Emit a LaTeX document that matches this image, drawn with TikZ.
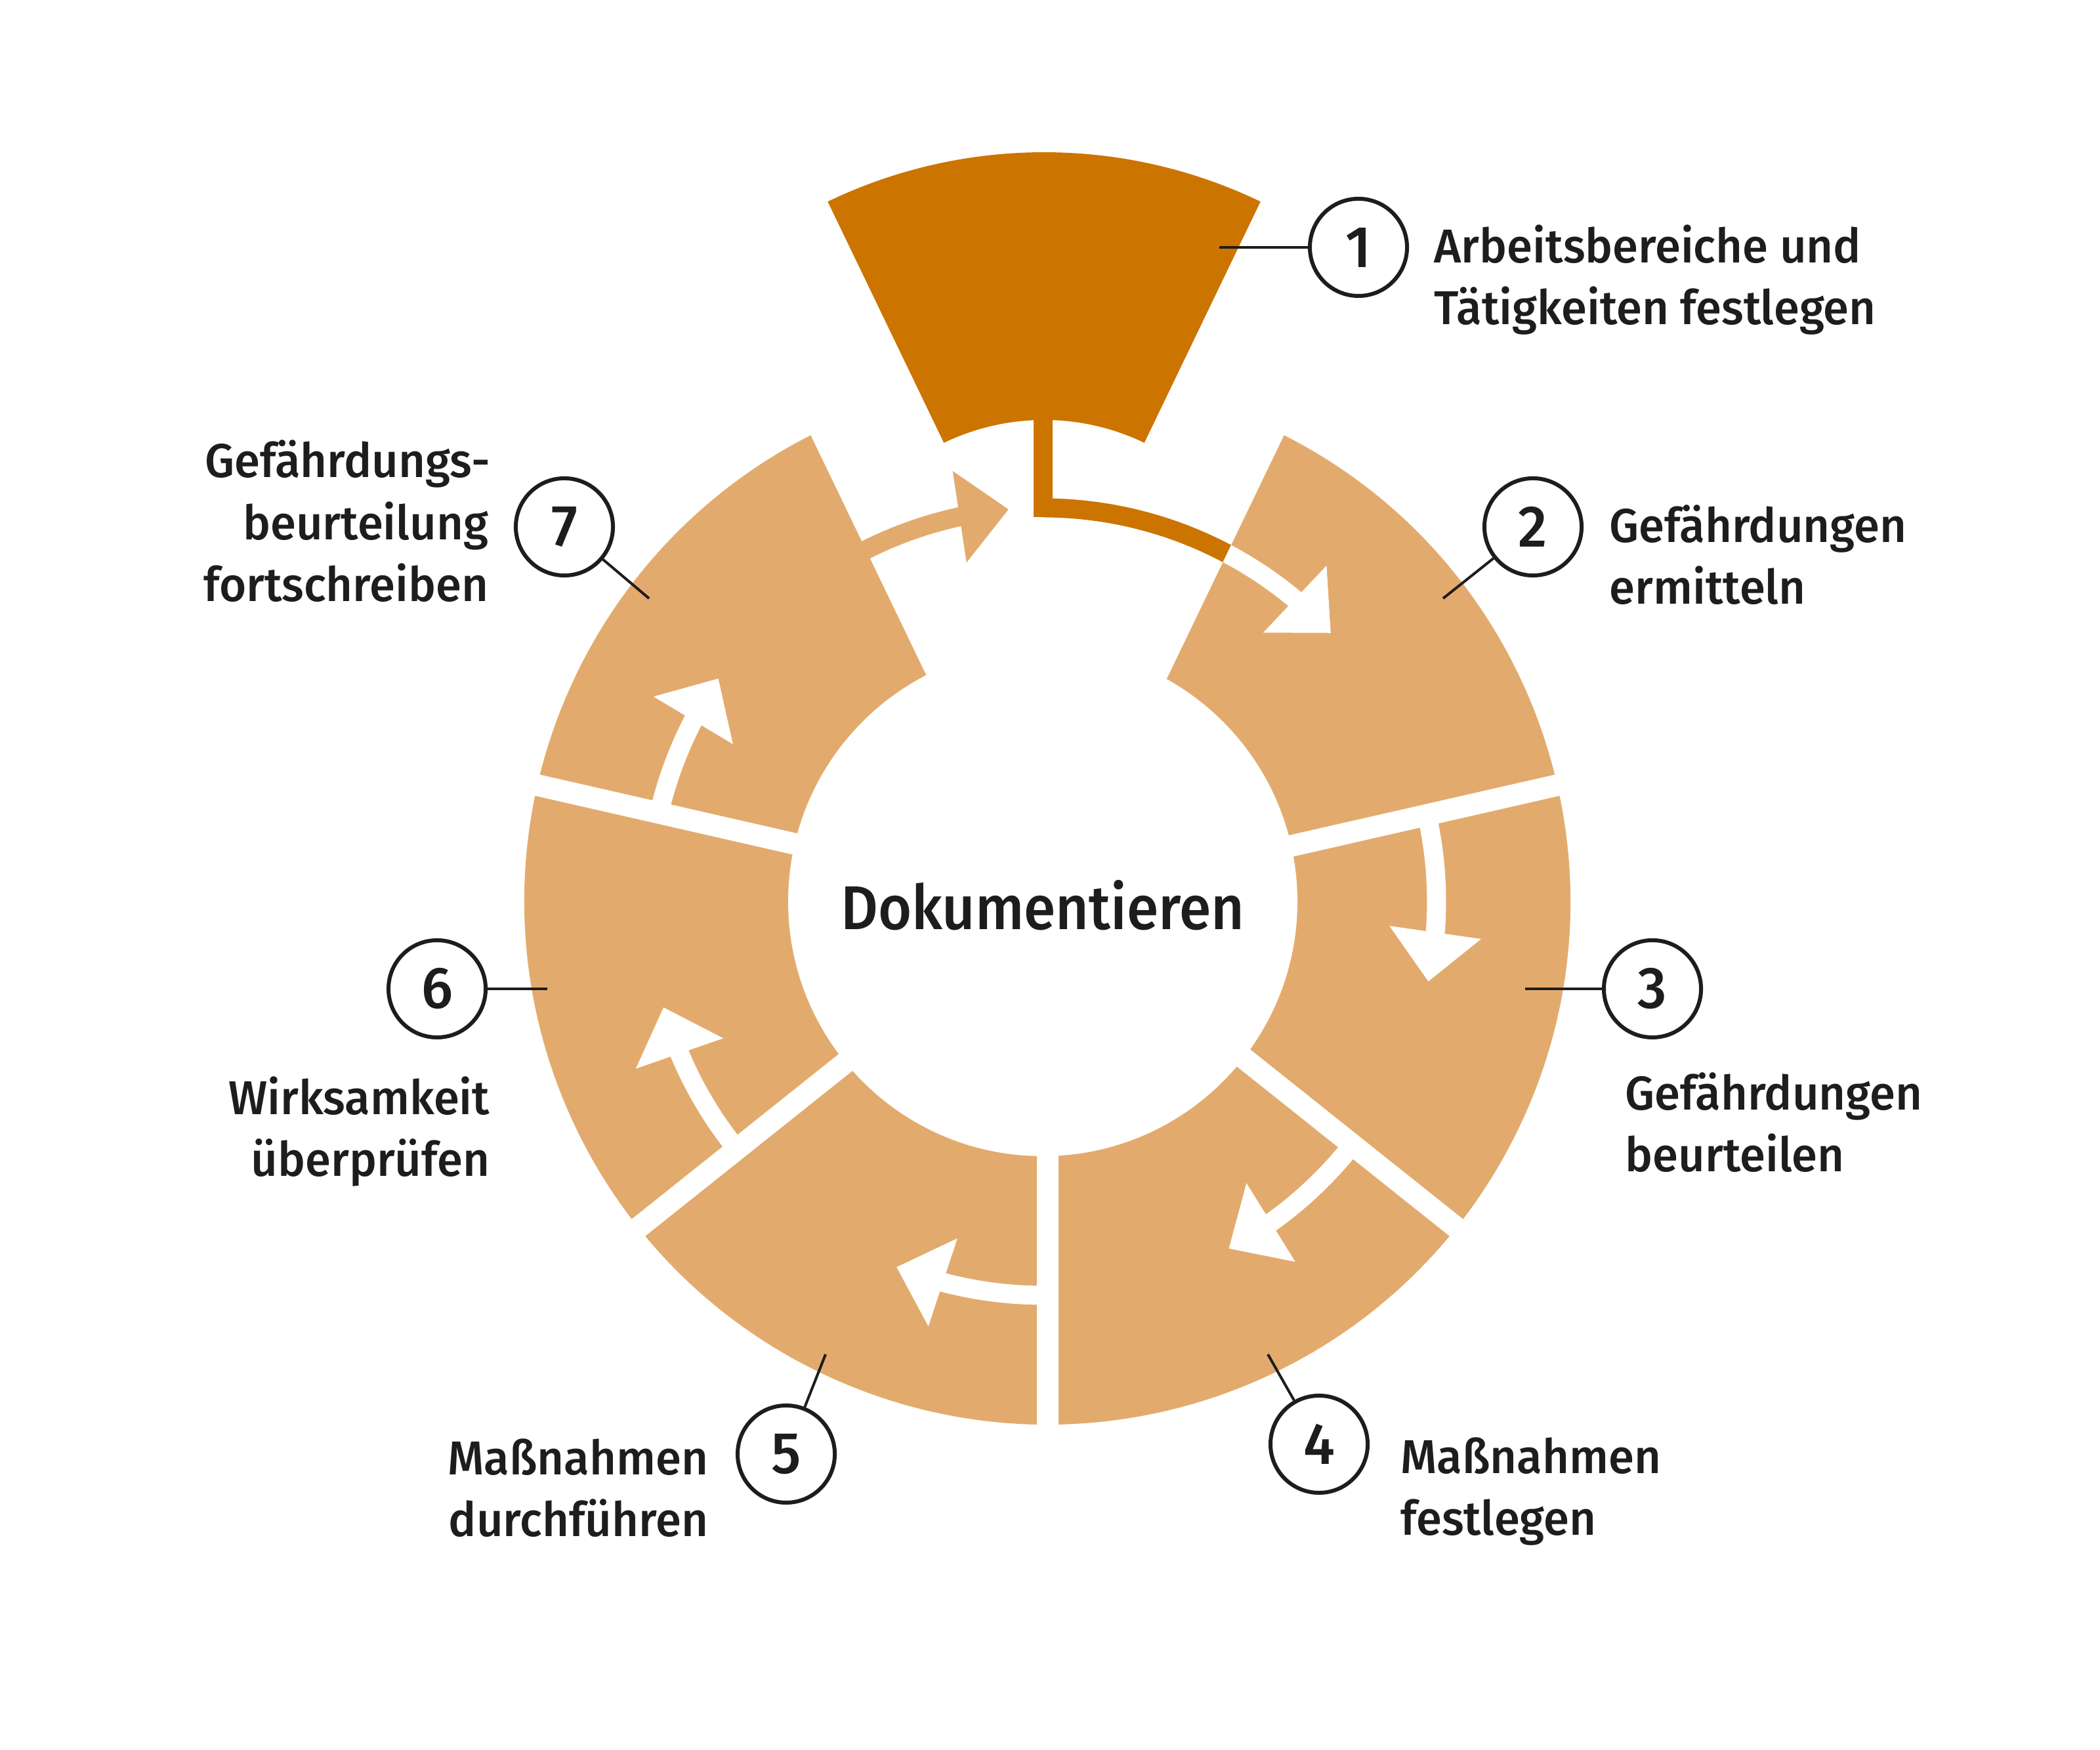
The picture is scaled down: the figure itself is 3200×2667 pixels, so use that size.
\documentclass[tikz,border=0pt]{standalone}
\usepackage{fontspec}
\setmainfont{Fira Sans}[UprightFont={* Medium}, FakeStretch=0.975]
\newfontfamily\docfont{Fira Sans}[UprightFont={* Medium}, FakeStretch=0.93]
\usetikzlibrary{calc}
\definecolor{darkor}{HTML}{CC7400}
\definecolor{lightor}{HTML}{E2AB6D}
\definecolor{ink}{HTML}{1D1D1B}
\newcommand{\cycarrow}[4]{%
  \pgfmathsetmacro{\shend}{#3+0.4*(#4-#3)}%
  \coordinate (hb) at (#3:600);%
  \coordinate (ht) at (#4:600);%
  \fill[#1] (#2:585.5) arc[start angle=#2, end angle=\shend, radius=585.5]
     -- (\shend:614.5) arc[start angle=\shend, end angle=#2, radius=614.5] -- cycle;%
  \fill[#1] ($(hb)!0.705cm!90:(ht)$) -- (ht) -- ($(hb)!0.705cm!-90:(ht)$) -- cycle;%
}
\newcommand{\firstarrow}[1]{%
  \fill[#1] (-14.5,585.5) rectangle (14.5,740);%
  \cycarrow{#1}{90}{50.2}{43}%
}
\begin{document}
\begin{tikzpicture}[x=0.01cm,y=0.01cm,
  lbl/.style={font=\fontsize{20.6pt}{24pt}\selectfont, text=ink, inner sep=0pt},
  lblL/.style={lbl, anchor=base west},
  lblR/.style={lbl, anchor=base east},
  numc/.style={circle, draw=ink, line width=0.06cm, minimum size=1.48cm, inner sep=0pt, text=ink, font=\fontsize{25.4pt}{25.4pt}\selectfont},
  leader/.style={draw=ink, line width=0.04cm},
  gapline/.style={white, line width=0.33cm},
]
\fill[white] (0,0) rectangle (3200,2667);
\useasboundingbox (0,0) rectangle (3200,2667);

\coordinate (RC) at (1596,1293);
\coordinate (AC) at (1589,1293);
\coordinate (SC) at (1591,1675);

% ring of segments 2-7
\begin{scope}[shift={(RC)}]
  \fill[lightor] (0,0) -- (64.286:797) arc[start angle=64.286, end angle=-244.286, radius=797] -- cycle;
  \foreach \a in {64.286,12.857,-38.571,-90,-141.429,-192.857,-244.286}
    \draw[gapline] (0,0) -- (\a:830);
\end{scope}
\fill[white] (AC) circle[radius=388];

% arrows between segments
\begin{scope}[shift={(AC)}]
  \cycarrow{white}{12.857}{-4.5}{-11.7}
  \cycarrow{white}{-38.571}{-54.6}{-61.8}
  \cycarrow{white}{-90}{-104.7}{-111.8}
  \cycarrow{white}{-141.429}{-157.3}{-164.4}
  \cycarrow{white}{167.143}{152.6}{145.5}
  \cycarrow{lightor}{121}{102.2}{95}
\end{scope}

% segment 1
\begin{scope}[shift={(SC)}]
  \fill[darkor] (64.286:760) arc[start angle=64.286, end angle=115.714, radius=760]
    -- (115.714:352) arc[start angle=115.714, end angle=64.286, radius=352] -- cycle;
\end{scope}

% arrow from segment 1 to segment 2
\begin{scope}[shift={(AC)}]
  \firstarrow{darkor}
\end{scope}
\begin{scope}
  \clip ($(RC)+(-25.714:16.5)+(64.286:1200)$) -- ($(RC)+(-25.714:16.5)+(244.286:1200)$)
     -- ($(RC)+(-25.714:1600)+(244.286:1200)$) -- ($(RC)+(-25.714:1600)+(64.286:1200)$) -- cycle;
  \begin{scope}[shift={(AC)}]
    \firstarrow{white}
  \end{scope}
\end{scope}

% centre text
\node[font=\docfont\fontsize{26.8pt}{30pt}\selectfont, text=ink, inner sep=0pt, anchor=base] (doc) at (1589,1250) {Dokumentieren};

% numbered circles with leaders
\node[numc] (c1) at (2070,2290) {1};
\node[numc] (c2) at (2336,1864) {2};
\node[numc] (c3) at (2518,1160) {3};
\node[numc] (c4) at (2010,466) {4};
\node[numc] (c5) at (1198,451) {5};
\node[numc] (c6) at (666,1160) {6};
\node[numc] (c7) at (860,1864) {7};
\coordinate (k1) at (1858,2290);
\coordinate (k2) at (2199,1755);
\coordinate (k3) at (2324,1160);
\coordinate (k4) at (1932,603);
\coordinate (k5) at (1258,603);
\coordinate (k6) at (834,1160);
\coordinate (k7) at (989,1755);
\draw[leader] (k1) -- (c1);
\draw[leader] (k2) -- (c2);
\draw[leader] (k3) -- (c3);
\draw[leader] (k4) -- (c4);
\draw[leader] (k5) -- (c5);
\draw[leader] (k6) -- (c6);
\draw[leader] (k7) -- (c7);

% labels
\node[lblL] (l1a) at (2185,2266) {Arbeitsbereiche und};
\node[lblL] (l1b) at (2185,2172) {Tätigkeiten festlegen};
\node[lblL] (l2a) at (2452,1840) {Gefährdungen};
\node[lblL] (l2b) at (2452,1746) {ermitteln};
\node[lblL] (l3a) at (2476,975) {Gefährdungen};
\node[lblL] (l3b) at (2476,881) {beurteilen};
\node[lblL] (l4a) at (2134,421) {Maßnahmen};
\node[lblL] (l4b) at (2134,327) {festlegen};
\node[lblR] (l5a) at (1080,419) {Maßnahmen};
\node[lblR] (l5b) at (1080,325) {durchführen};
\node[lblR] (l6a) at (747,968) {Wirksamkeit};
\node[lblR] (l6b) at (747,874) {überprüfen};
\node[lblR] (l7a) at (748,1939) {Gefährdungs-};
\node[lblR] (l7b) at (745,1844) {beurteilung};
\node[lblR] (l7c) at (745,1750) {fortschreiben};
\end{tikzpicture}
\end{document}
